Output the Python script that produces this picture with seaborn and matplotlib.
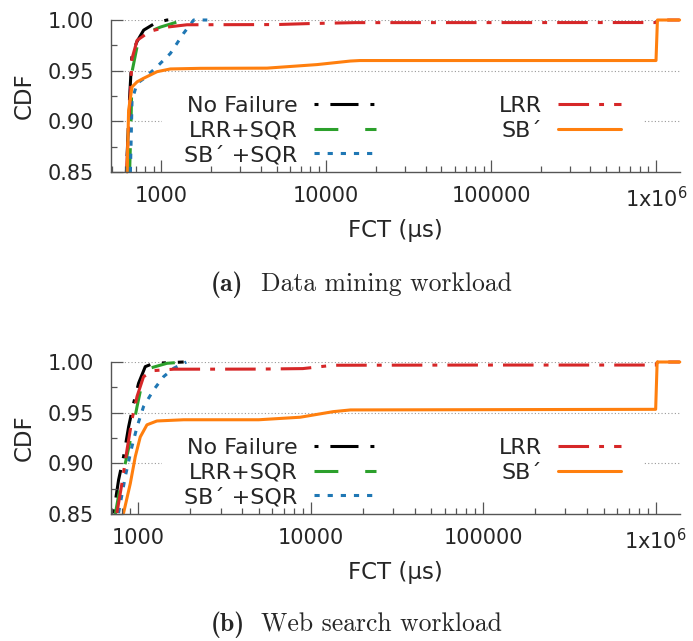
import numpy as np
import pandas as pd
import seaborn as sns
import matplotlib
matplotlib.use("Agg")
import matplotlib.pyplot as plt
from matplotlib.ticker import FixedLocator, FixedFormatter, NullFormatter
from matplotlib.lines import Line2D

# ---------------- data ----------------
labels = ["No Failure", "LRR+SQR", "SB\u00b4 +SQR", "LRR", "SB\u00b4"]
colors = ["#000000", "#2ca02c", "#1f77b4", "#d62728", "#ff7f0e"]

# (a) Data mining workload
dm_nofail_x = [614, 640, 664, 713, 781, 920, 1083, 1300]
dm_nofail_y = [0.85, 0.92, 0.967, 0.979, 0.990, 0.997, 1.0, 1.0]
dm_lrrsqr_x = [642, 655, 664, 713, 747, 986, 1245, 1563]
dm_lrrsqr_y = [0.85, 0.90, 0.949, 0.974, 0.985, 0.993, 0.998, 1.0]
dm_sbsqr_x = [649, 664, 713, 781, 942, 1134, 1366, 1571, 1900]
dm_sbsqr_y = [0.85, 0.921, 0.9375, 0.942, 0.954, 0.967, 0.987, 1.0, 1.0]
dm_lrr_x = [614, 633, 664, 713, 858, 1083, 1431, 5000, 8000, 15000, 1000000, 1030000, 1390000]
dm_lrr_y = [0.85, 0.895, 0.962, 0.980, 0.989, 0.993, 0.9953, 0.9955, 0.9965, 0.9974, 0.9975, 1.0, 1.0]
dm_sb_x = [620, 633, 664, 713, 781, 942, 1134, 1723, 4370, 8800, 14000, 16000, 1000000, 1020000, 1390000]
dm_sb_y = [0.85, 0.911, 0.934, 0.939, 0.9425, 0.949, 0.9517, 0.9523, 0.9525, 0.956, 0.9595, 0.960, 0.960, 1.0, 1.0]

# (b) Web search workload
ws_nofail_x = [719, 769, 822, 879, 939, 1004, 1098, 1227, 1834]
ws_nofail_y = [0.8507, 0.8836, 0.9066, 0.936, 0.959, 0.979, 0.9954, 0.9987, 1.0]
ws_lrrsqr_x = [736, 786, 841, 919, 984, 1051, 1174, 1466, 1834]
ws_lrrsqr_y = [0.85, 0.877, 0.900, 0.930, 0.956, 0.979, 0.994, 0.9987, 1.0]
ws_sbsqr_x = [769, 841, 919, 984, 1073, 1227, 1402, 1603, 1834, 1900]
ws_sbsqr_y = [0.851, 0.887, 0.9165, 0.936, 0.956, 0.9724, 0.9855, 0.9938, 0.9987, 1.0]
ws_lrr_x = [752, 804, 860, 919, 984, 1073, 1227, 1603, 5000, 9000, 13500, 100000, 1000000, 1030000, 1380000]
ws_lrr_y = [0.851, 0.880, 0.913, 0.943, 0.966, 0.9855, 0.9915, 0.9929, 0.993, 0.9935, 0.9968, 0.997, 0.997, 1.0, 1.0]
ws_sb_x = [822, 899, 961, 1027, 1123, 1283, 1834, 5000, 8690, 13500, 17000, 1000000, 1020000, 1380000]
ws_sb_y = [0.851, 0.880, 0.9066, 0.926, 0.938, 0.9418, 0.943, 0.943, 0.9455, 0.951, 0.9527, 0.9533, 1.0, 1.0]

y_ticks = [0.85, 0.90, 0.95, 1.00]
y_ticklabels = ["0.85", "0.90", "0.95", "1.00"]
y_minor = [0.875, 0.925, 0.975]
x_ticks = [1000, 10000, 100000, 1000000]
x_ticklabels = ["1000", "10000", "100000", "1x10$^{6}$"]
x_minor = [m * 10.0 ** e for e in range(2, 7) for m in range(2, 10)]
captions = [("(a)", "Data mining workload"), ("(b)", "Web search workload")]

# ---------------- style ----------------
sns.set_theme(style="white")
plt.rcParams["font.family"] = ["DejaVu Sans"]
plt.rcParams["mathtext.default"] = "regular"

LW = 2.2
styles = [
    (0, (1.3, 3.9, 9.2, 3.9)),   # No Failure
    (0, (7.8, 8.8)),             # LRR+SQR
    (0, (1.7, 2.6)),             # SB' +SQR
    (0, (10, 3.3, 1.6, 3.3)),    # LRR
    "-",                         # SB'
]

W, H = 693, 641
fig = plt.figure(figsize=(W / 100, H / 100), dpi=100)

def axes_rect(left, top, right, bottom):
    return [left / W, 1 - bottom / H, (right - left) / W, (bottom - top) / H]

panels = [
    dict(rect=axes_rect(111, 20, 680, 172), xlim=(495, 1.398e6),
         series=[(dm_nofail_x, dm_nofail_y), (dm_lrrsqr_x, dm_lrrsqr_y),
                 (dm_sbsqr_x, dm_sbsqr_y), (dm_lrr_x, dm_lrr_y), (dm_sb_x, dm_sb_y)]),
    dict(rect=axes_rect(111, 362, 680, 514), xlim=(695, 1.384e6),
         series=[(ws_nofail_x, ws_nofail_y), (ws_lrrsqr_x, ws_lrrsqr_y),
                 (ws_sbsqr_x, ws_sbsqr_y), (ws_lrr_x, ws_lrr_y), (ws_sb_x, ws_sb_y)]),
]

spine_col = "#555555"
for p in panels:
    ax = fig.add_axes(p["rect"])
    ax.set_xscale("log")
    ax.set_axisbelow(False)
    for (xs, ys), lab, col, ls in zip(p["series"], labels, colors, styles):
        df = pd.DataFrame({"x": xs, "y": ys})
        sns.lineplot(data=df, x="x", y="y", ax=ax, color=col, linewidth=LW,
                     linestyle=ls, estimator=None, sort=False, clip_on=False,
                     legend=False, zorder=2)
    ax.set_xlim(*p["xlim"])
    ax.set_ylim(0.85, 1.0)
    ax.yaxis.set_major_locator(FixedLocator(y_ticks))
    ax.yaxis.set_major_formatter(FixedFormatter(y_ticklabels))
    ax.yaxis.set_minor_locator(FixedLocator(y_minor))
    ax.xaxis.set_major_locator(FixedLocator(x_ticks))
    ax.xaxis.set_major_formatter(FixedFormatter(x_ticklabels))
    ax.xaxis.set_minor_locator(FixedLocator(x_minor))
    ax.xaxis.set_minor_formatter(NullFormatter())
    ax.tick_params(axis="both", which="major", direction="in", length=8.5, width=0.9,
                   color=spine_col, labelsize=15, bottom=True, left=True)
    ax.tick_params(axis="both", which="minor", direction="in", length=4, width=0.9,
                   color=spine_col, bottom=True, left=True)
    ax.tick_params(axis="x", which="major", pad=10)
    ax.tick_params(axis="y", which="major", pad=12)
    ax.grid(False)
    # horizontal dotted grid at the major y ticks, kept below the legend box
    for yv in y_ticks[1:]:
        ax.axhline(yv, color="#999999", linestyle=(0, (1, 2)), linewidth=0.8, zorder=0.5)
    for s in ["top", "right"]:
        ax.spines[s].set_visible(False)
    for s in ["left", "bottom"]:
        ax.spines[s].set_color(spine_col)
        ax.spines[s].set_linewidth(1.0)
    ax.set_xlabel("FCT (\u00b5s)", fontsize=16.5)
    ax.set_ylabel("CDF", fontsize=16.5)
    ax.xaxis.set_label_coords(0.5, -0.382)
    ax.xaxis.label.set_va("center")
    ax.yaxis.set_label_coords(-0.153, 0.5)
    ax.yaxis.label.set_va("center")

    handles = [Line2D([], [], color=c, linewidth=LW, linestyle=ls) for c, ls in zip(colors, styles)]
    leg = ax.legend(handles, labels, ncol=2, markerfirst=False, loc="center",
                    bbox_to_anchor=(0.512, 0.272), fontsize=16, handlelength=2.8,
                    handletextpad=0.75, columnspacing=5.5, labelspacing=0.2,
                    borderpad=1.0, frameon=True, facecolor="white", edgecolor="none",
                    framealpha=1, fancybox=False)
    leg.set_zorder(1)

for (tag, text), base in zip(captions, [291, 631.5]):
    fig.text(211 / W, 1 - base / H, tag, family="cmb10", fontsize=18.5, va="baseline", ha="left")
    fig.text(261 / W, 1 - base / H, text, family="cmr10", fontsize=18.5, va="baseline", ha="left")

fig.savefig("out.png", dpi=100)
